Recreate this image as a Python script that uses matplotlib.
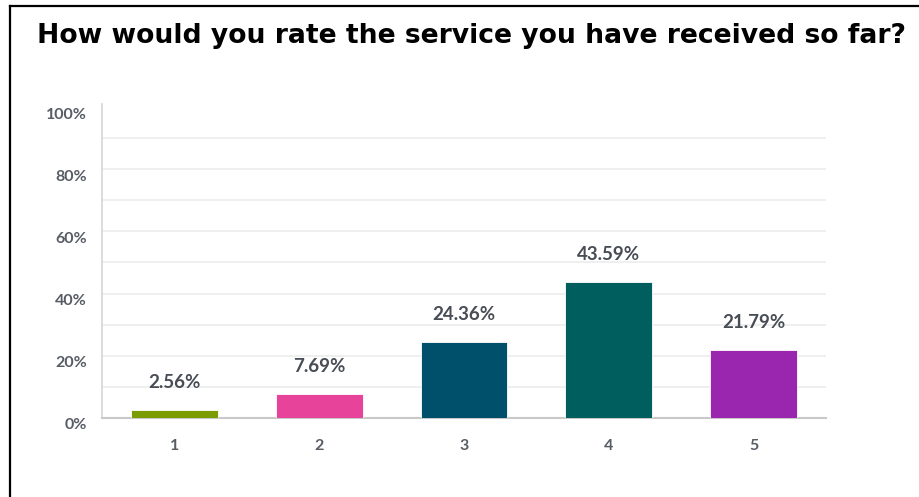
import matplotlib
matplotlib.use("Agg")
import matplotlib.pyplot as plt
import matplotlib.transforms as mtransforms
from matplotlib.lines import Line2D

# Survey results
categories = ["1", "2", "3", "4", "5"]
percentages = [2.56, 7.69, 24.36, 43.59, 21.79]
bar_colors = ["#7a9c00", "#e8439a", "#004f6b", "#005e5e", "#9a26b0"]
y_ticks = [0, 20, 40, 60, 80, 100]
y_tick_labels = ["0%", "20%", "40%", "60%", "80%", "100%"]
title = "How would you rate the service you have received so far?"

label_font = "Lato"
label_weight = "bold"
text_color = "#474c55"

fig = plt.figure(figsize=(9.2, 4.97), dpi=100)
ax = fig.add_axes([0.1109, 0.159, 0.7869, 0.6257])

x = range(len(categories))
ax.bar(x, percentages, width=0.6, color=bar_colors, zorder=3,
       edgecolor="white", linewidth=0.6)

for xi, v in zip(x, percentages):
    ax.annotate(f"{v:.2f}%", (xi, v), xytext=(0, 14), textcoords="offset points",
                ha="center", va="bottom", fontsize=13.5, color=text_color,
                family=label_font, fontweight=label_weight)

ax.set_xlim(-0.5, len(categories) - 0.5)
ax.set_ylim(0, 100)

# light gridlines every 10%
for g in range(10, 100, 10):
    ax.axhline(g, color="#ececec", linewidth=1.2, zorder=1)

ax.set_yticks(y_ticks)
ax.set_yticklabels(y_tick_labels, family=label_font, fontweight=label_weight,
                   fontsize=11.5, color="#575c65")
ax.set_xticks(list(x))
ax.set_xticklabels(categories, family=label_font, fontweight=label_weight,
                   fontsize=11.5, color="#575c65")
ax.tick_params(axis="both", length=0)
ax.tick_params(axis="y", pad=11)
ax.tick_params(axis="x", pad=15)

# shift y tick labels slightly below their gridlines
offset = mtransforms.ScaledTranslation(0, -6 / 100, fig.dpi_scale_trans)
for lbl in ax.get_yticklabels():
    lbl.set_transform(lbl.get_transform() + offset)

for side in ["top", "right"]:
    ax.spines[side].set_visible(False)
ax.spines["left"].set_color("#d5d5d5")
ax.spines["bottom"].set_color("#c8c8c8")
ax.spines["left"].set_linewidth(1.2)
ax.spines["bottom"].set_linewidth(1.5)
ax.spines["left"].set_bounds(0, 101)

fig.text(0.512, 0.927, title, ha="center", va="center", fontsize=19.2,
         fontweight="bold", family="DejaVu Sans", color="black")

# panel border on the left and top
fig.add_artist(Line2D([10 / 920, 10 / 920], [0, 1 - 6 / 497], transform=fig.transFigure,
                      color="black", linewidth=1.6))
fig.add_artist(Line2D([10 / 920, 1], [1 - 6 / 497, 1 - 6 / 497], transform=fig.transFigure,
                      color="black", linewidth=1.6))

fig.savefig("out.png", dpi=100, facecolor="white")
